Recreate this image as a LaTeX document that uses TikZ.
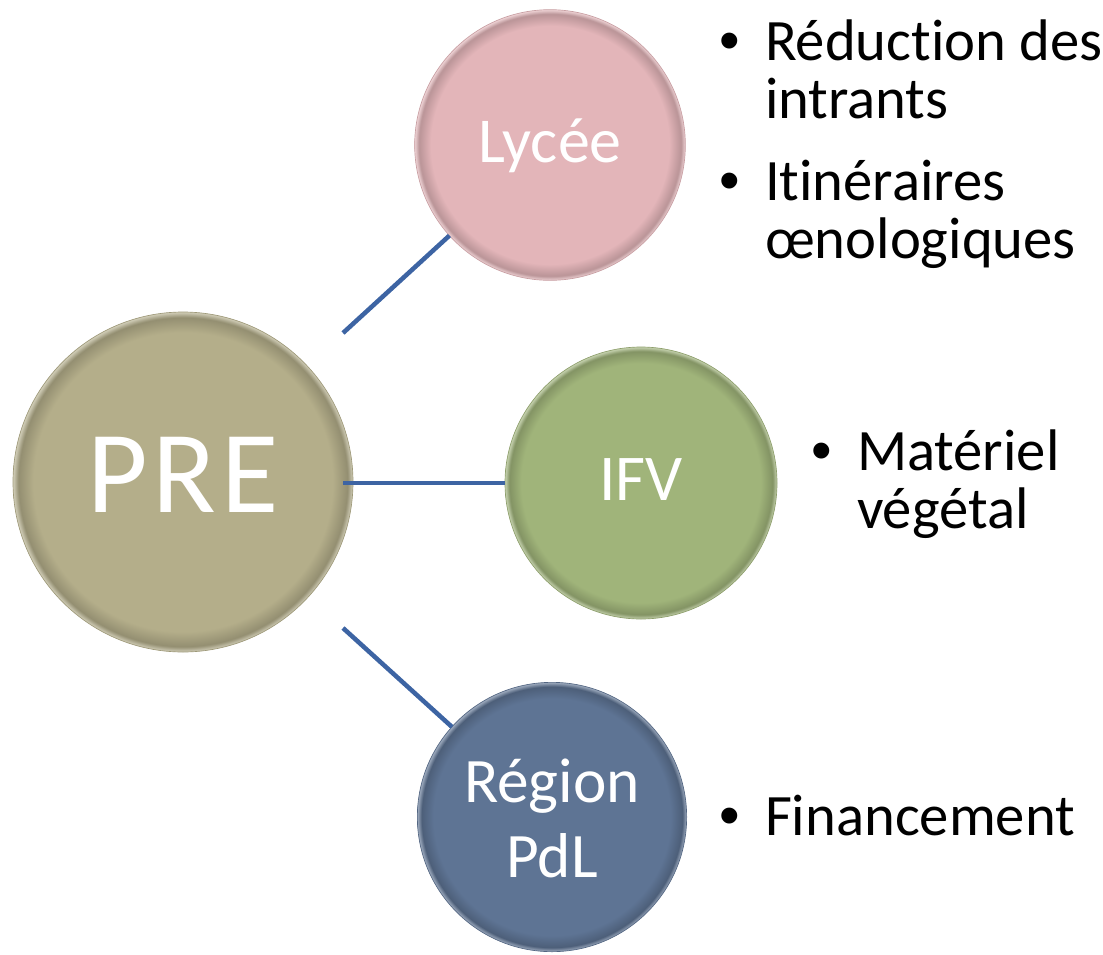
\documentclass[tikz,border=0pt]{standalone}
\usepackage{fontspec}
\setmainfont[Ligatures={NoCommon}]{Carlito}
\newfontfamily\bulletfont{Liberation Sans}
\definecolor{preC}{HTML}{B4AE8A}
\definecolor{lycC}{HTML}{E3B5B9}
\definecolor{ifvC}{HTML}{A0B47A}
\definecolor{regC}{HTML}{5E7494}
\definecolor{lineC}{HTML}{3D64A3}
\colorlet{basec}{preC}
\colorlet{edgec}{preC!75!black}
\pgfdeclareradialshading[basec,edgec]{bevel}{\pgfpoint{0bp}{0bp}}{color(0bp)=(basec); color(22bp)=(basec); color(24.2bp)=(edgec); color(25bp)=(basec!60!white); color(50bp)=(white)}
\tikzset{
  bubble/.style={circle, inner sep=0pt, outer sep=0pt, text=white, align=center,
    /utils/exec={\colorlet{basec}{#1}\colorlet{edgec}{#1!82!black}},
    shading=bevel, draw=#1!88!black, line width=0.5pt, text depth=0pt},
  link/.style={draw=lineC, line width=3.4pt},
  itemtext/.style={anchor=base west, align=left, inner sep=0pt, outer sep=0pt,
    font=\fontsize{44}{43.5}\selectfont},
}
\newcommand{\bul}{\llap{{\bulletfont •}\hspace{19pt}}}
\begin{document}
\begin{tikzpicture}[x=0.75pt,y=-0.75pt]
\useasboundingbox (0,0) rectangle (1103,954);
% connectors' free ends
\coordinate (s1) at (343,333);
\coordinate (s2) at (343,483);
\coordinate (s3) at (343,628);
% circles
\node[bubble=preC, minimum size=255pt, text height=45pt, font=\fontsize{88}{100}\selectfont] (pre) at (183,482) {P\kern3.5pt R\kern3.5pt E};
\node[bubble=lycC, minimum size=203pt, text height=25.5pt, font=\fontsize{48}{60}\selectfont] (lyc) at (550,145) {Lycée};
\node[bubble=ifvC, minimum size=204pt, text height=25.5pt, font=\fontsize{49}{60}\selectfont] (ifv) at (641,483) {IFV};
\node[bubble=regC, minimum size=202pt, text height=90pt, font=\fontsize{47.5}{56}\selectfont] (reg) at (552,817) {Région\\PdL};
% connectors
\draw[link] (s1) -- (lyc.222.6);
\draw[link] (s2) -- (ifv.west);
\draw[link] (s3) -- (reg.138.6);
% lists (base anchor = baseline of last line)
\node[itemtext] (l1) at (765,118) {\bul Réduction des\\intrants};
\node[itemtext] (l2) at (765,258) {\bul Itinéraires\\œnologiques};
\node[itemtext] (l3) at (857,528) {\bul Matériel\\végétal};
\node[itemtext] (l4) at (765,835) {\bul Financement};
\end{tikzpicture}
\end{document}
